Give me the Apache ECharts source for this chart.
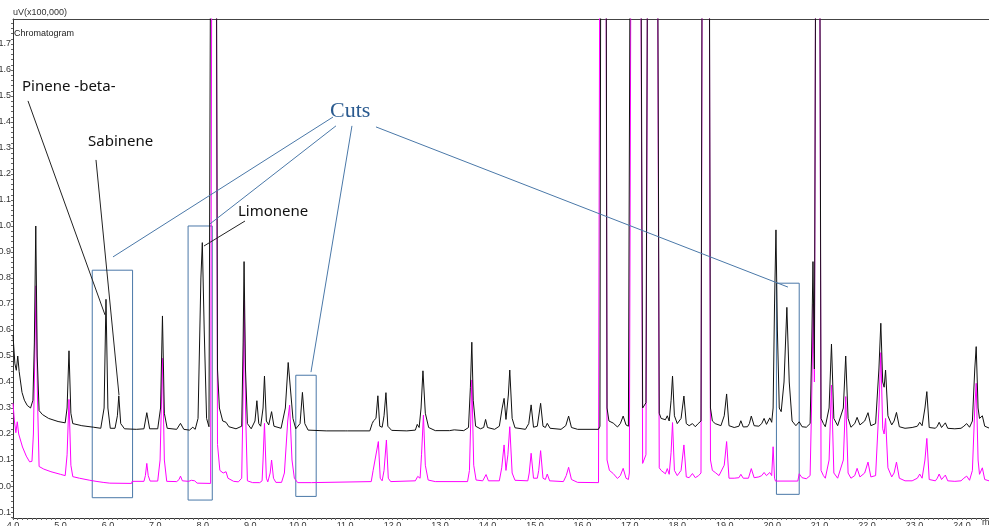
<!DOCTYPE html>
<html>
<head>
<meta charset="utf-8">
<script src="https://cdn.jsdelivr.net/npm/echarts@6/dist/echarts.min.js"></script>
<style>html,body{margin:0;padding:0;background:#fff;}#c{width:989px;height:526px;}</style>
</head>
<body>
<div id="c"></div>
<script>
// ---- data ----
const xTicks = [4.0,5.0,6.0,7.0,8.0,9.0,10.0,11.0,12.0,13.0,14.0,15.0,16.0,17.0,18.0,19.0,20.0,21.0,22.0,23.0,24.0];
const yTicks = [-0.1,0.0,0.1,0.2,0.3,0.4,0.5,0.6,0.7,0.8,0.9,1.0,1.1,1.2,1.3,1.4,1.5,1.6,1.7];

// black trace (upper chromatogram), [time min, uV x100,000]
const blackTrace = [
[4.00,0.58],[4.04,0.47],[4.07,0.445],[4.10,0.50],[4.13,0.44],[4.19,0.36],[4.24,0.33],[4.30,0.31],[4.37,0.30],[4.42,0.33],[4.45,0.55],[4.48,1.00],[4.51,0.50],[4.55,0.29],[4.62,0.275],[4.75,0.26],[4.95,0.248],[5.10,0.243],[5.14,0.30],[5.18,0.52],[5.22,0.28],[5.26,0.24],[5.45,0.232],[5.70,0.226],[5.85,0.222],[5.92,0.30],[5.96,0.718],[6.00,0.30],[6.05,0.222],[6.15,0.222],[6.20,0.27],[6.23,0.347],[6.27,0.24],[6.35,0.22],[6.60,0.218],[6.76,0.22],[6.82,0.282],[6.88,0.22],[7.05,0.22],[7.11,0.30],[7.15,0.654],[7.19,0.28],[7.25,0.222],[7.45,0.218],[7.53,0.241],[7.60,0.218],[7.72,0.215],[7.79,0.226],[7.84,0.218],[7.90,0.26],[7.96,0.80],[7.99,0.936],[8.03,0.60],[8.08,0.26],[8.13,0.228],[8.165,0.23],[8.235,6.0],[8.31,0.45],[8.35,0.30],[8.42,0.25],[8.49,0.245],[8.55,0.228],[8.70,0.22],[8.82,0.23],[8.85,0.55],[8.87,0.863],[8.90,0.45],[8.94,0.24],[9.02,0.22],[9.10,0.25],[9.14,0.328],[9.18,0.24],[9.22,0.23],[9.27,0.30],[9.30,0.423],[9.34,0.25],[9.39,0.235],[9.45,0.286],[9.50,0.23],[9.65,0.222],[9.74,0.30],[9.80,0.475],[9.84,0.47],[9.90,0.26],[9.96,0.22],[10.05,0.24],[10.10,0.36],[10.15,0.24],[10.22,0.215],[10.60,0.212],[11.00,0.212],[11.02,0.216],[11.05,0.212],[11.52,0.212],[11.57,0.24],[11.60,0.251],[11.65,0.26],[11.69,0.347],[11.73,0.23],[11.78,0.226],[11.82,0.27],[11.86,0.359],[11.90,0.23],[11.98,0.214],[12.30,0.212],[12.48,0.215],[12.52,0.237],[12.56,0.225],[12.60,0.30],[12.64,0.443],[12.69,0.28],[12.76,0.225],[12.90,0.213],[13.20,0.213],[13.30,0.216],[13.50,0.213],[13.60,0.225],[13.64,0.38],[13.67,0.553],[13.70,0.33],[13.75,0.23],[13.85,0.22],[13.92,0.225],[13.96,0.256],[14.00,0.225],[14.15,0.218],[14.25,0.23],[14.31,0.30],[14.35,0.337],[14.39,0.256],[14.44,0.35],[14.47,0.446],[14.52,0.26],[14.58,0.224],[14.80,0.218],[14.87,0.24],[14.92,0.312],[14.97,0.226],[15.05,0.23],[15.12,0.318],[15.17,0.23],[15.22,0.225],[15.26,0.241],[15.32,0.222],[15.55,0.218],[15.65,0.232],[15.71,0.269],[15.77,0.225],[15.90,0.218],[16.34,0.218],[16.37,0.23],[16.44,8.0],[16.52,0.30],[16.56,0.25],[16.65,0.242],[16.74,0.227],[16.80,0.24],[16.86,0.269],[16.92,0.235],[16.97,0.23],[16.99,0.23],[17.12,8.0],[17.27,0.30],[17.28,0.30],[17.34,0.32],[17.48,8.0],[17.62,0.28],[17.66,0.26],[17.75,0.255],[17.79,0.27],[17.83,0.25],[17.87,0.33],[17.90,0.423],[17.94,0.27],[18.00,0.24],[18.08,0.26],[18.14,0.346],[18.19,0.24],[18.25,0.232],[18.32,0.24],[18.38,0.228],[18.44,0.24],[18.50,0.25],[18.60,8.0],[18.70,0.30],[18.74,0.25],[18.80,0.24],[18.92,0.232],[18.99,0.27],[19.04,0.354],[19.09,0.232],[19.20,0.225],[19.30,0.23],[19.34,0.251],[19.39,0.227],[19.48,0.228],[19.52,0.24],[19.56,0.269],[19.62,0.232],[19.72,0.23],[19.78,0.24],[19.83,0.26],[19.88,0.237],[19.91,0.24],[19.95,0.262],[19.99,0.245],[20.02,0.30],[20.05,0.70],[20.08,0.985],[20.11,0.60],[20.15,0.30],[20.19,0.286],[20.25,0.40],[20.31,0.687],[20.36,0.40],[20.42,0.25],[20.50,0.232],[20.57,0.247],[20.63,0.228],[20.72,0.226],[20.80,0.24],[20.83,0.50],[20.86,0.863],[20.89,0.45],[20.965,5.0],[21.03,0.26],[21.08,0.24],[21.12,0.228],[21.20,0.30],[21.25,0.546],[21.30,0.26],[21.38,0.232],[21.50,0.30],[21.55,0.50],[21.60,0.26],[21.66,0.226],[21.74,0.24],[21.79,0.264],[21.85,0.235],[21.95,0.25],[22.02,0.282],[22.08,0.232],[22.18,0.24],[22.25,0.45],[22.29,0.626],[22.33,0.40],[22.36,0.38],[22.39,0.446],[22.44,0.27],[22.52,0.235],[22.57,0.25],[22.62,0.283],[22.68,0.228],[22.80,0.222],[22.95,0.225],[23.06,0.23],[23.11,0.245],[23.16,0.232],[23.22,0.30],[23.26,0.363],[23.31,0.225],[23.44,0.222],[23.48,0.23],[23.52,0.245],[23.57,0.225],[23.61,0.228],[23.65,0.243],[23.70,0.222],[23.85,0.22],[23.98,0.222],[24.04,0.23],[24.10,0.24],[24.16,0.226],[24.22,0.25],[24.27,0.45],[24.30,0.536],[24.34,0.30],[24.37,0.26],[24.43,0.27],[24.48,0.23],[24.57,0.223]
];

// magenta trace (lower chromatogram, with cut regions flattened)
const magentaTrace = [
[4.00,0.318],[4.03,0.25],[4.06,0.205],[4.09,0.247],[4.12,0.20],[4.20,0.15],[4.28,0.115],[4.35,0.093],[4.40,0.095],[4.43,0.20],[4.455,0.45],[4.485,0.77],[4.515,0.35],[4.55,0.075],[4.65,0.065],[4.80,0.055],[5.00,0.045],[5.10,0.04],[5.14,0.12],[5.18,0.333],[5.22,0.08],[5.26,0.036],[5.40,0.03],[5.62,0.022],[5.75,0.018],[5.90,0.014],[6.04,0.011],[6.50,0.010],[6.51,0.018],[6.76,0.018],[6.79,0.04],[6.82,0.087],[6.85,0.04],[6.89,0.019],[7.05,0.019],[7.10,0.10],[7.15,0.491],[7.19,0.10],[7.24,0.018],[7.45,0.017],[7.50,0.025],[7.53,0.038],[7.57,0.02],[7.70,0.018],[7.76,0.022],[7.79,0.026],[7.83,0.02],[7.88,0.011],[8.165,0.010],[8.235,6.0],[8.31,0.16],[8.36,0.06],[8.43,0.05],[8.49,0.055],[8.53,0.03],[8.65,0.018],[8.75,0.016],[8.82,0.03],[8.85,0.35],[8.875,0.715],[8.90,0.30],[8.94,0.02],[9.05,0.013],[9.20,0.013],[9.25,0.02],[9.27,0.10],[9.30,0.241],[9.34,0.03],[9.37,0.016],[9.42,0.05],[9.45,0.10],[9.49,0.03],[9.54,0.014],[9.66,0.014],[9.72,0.05],[9.79,0.25],[9.83,0.311],[9.88,0.10],[9.93,0.03],[9.96,0.023],[10.00,0.013],[10.29,0.013],[10.31,0.017],[11.55,0.017],[11.59,0.06],[11.62,0.06],[11.70,0.171],[11.74,0.03],[11.78,0.02],[11.82,0.06],[11.87,0.177],[11.91,0.03],[11.96,0.017],[12.48,0.02],[12.53,0.037],[12.58,0.03],[12.61,0.12],[12.65,0.273],[12.69,0.08],[12.75,0.023],[12.90,0.017],[13.58,0.017],[13.62,0.06],[13.67,0.408],[13.71,0.08],[13.76,0.023],[13.90,0.02],[13.97,0.044],[14.02,0.02],[14.25,0.02],[14.30,0.07],[14.35,0.158],[14.39,0.06],[14.43,0.12],[14.47,0.228],[14.52,0.05],[14.58,0.022],[14.85,0.02],[14.88,0.05],[14.92,0.126],[14.97,0.03],[15.05,0.03],[15.08,0.06],[15.12,0.136],[15.17,0.03],[15.22,0.025],[15.26,0.046],[15.31,0.02],[15.60,0.017],[15.66,0.04],[15.71,0.072],[15.77,0.025],[15.90,0.014],[16.34,0.013],[16.37,0.02],[16.44,8.0],[16.52,0.10],[16.57,0.06],[16.65,0.048],[16.74,0.029],[16.80,0.04],[16.86,0.068],[16.92,0.03],[16.97,0.025],[16.99,0.05],[17.12,8.0],[17.27,0.087],[17.29,0.087],[17.34,0.12],[17.48,8.0],[17.62,0.07],[17.66,0.06],[17.75,0.047],[17.79,0.067],[17.83,0.045],[17.87,0.13],[17.90,0.244],[17.94,0.06],[18.00,0.04],[18.08,0.06],[18.14,0.158],[18.19,0.035],[18.25,0.032],[18.32,0.048],[18.38,0.032],[18.45,0.04],[18.50,0.05],[18.60,8.0],[18.70,0.10],[18.74,0.06],[18.80,0.052],[18.88,0.04],[18.99,0.08],[19.04,0.171],[19.09,0.03],[19.20,0.03],[19.30,0.032],[19.34,0.045],[19.39,0.03],[19.50,0.03],[19.56,0.067],[19.62,0.032],[19.72,0.035],[19.78,0.04],[19.83,0.052],[19.88,0.04],[19.91,0.04],[19.95,0.052],[19.99,0.04],[20.02,0.151],[20.05,0.03],[20.07,0.019],[20.54,0.019],[20.57,0.047],[20.63,0.032],[20.72,0.028],[20.80,0.04],[20.83,0.30],[20.865,0.70],[20.89,0.40],[20.965,5.0],[21.03,0.06],[21.08,0.04],[21.12,0.03],[21.20,0.10],[21.25,0.388],[21.30,0.05],[21.38,0.03],[21.50,0.10],[21.55,0.344],[21.60,0.05],[21.66,0.03],[21.74,0.04],[21.79,0.068],[21.85,0.035],[21.95,0.05],[22.02,0.092],[22.08,0.035],[22.18,0.04],[22.25,0.30],[22.29,0.513],[22.33,0.22],[22.36,0.20],[22.39,0.26],[22.44,0.07],[22.52,0.035],[22.57,0.05],[22.62,0.092],[22.68,0.03],[22.80,0.02],[22.95,0.02],[23.06,0.03],[23.11,0.046],[23.16,0.03],[23.22,0.10],[23.26,0.183],[23.31,0.025],[23.44,0.02],[23.48,0.03],[23.52,0.046],[23.57,0.025],[23.61,0.03],[23.65,0.042],[23.70,0.02],[23.85,0.018],[23.98,0.02],[24.04,0.03],[24.10,0.038],[24.16,0.022],[24.22,0.06],[24.27,0.30],[24.30,0.395],[24.34,0.10],[24.37,0.045],[24.43,0.07],[24.48,0.025],[24.57,0.02]
];

// annotation content (data coordinates)
const cutBoxes = [[[5.67,-0.045],[6.52,0.830]],[[7.69,-0.054],[8.20,1.000]],[[9.96,-0.040],[10.39,0.426]],[[20.09,-0.032],[20.57,0.780]]];
const peakNames = ['Pinene -beta-','Sabinene','Limonene'];
const peakNameAnchors = [[4.19,1.535],[5.581,1.323],[8.742,1.054]];
const peakLeaders = [[[4.316,1.481],[5.939,0.658]],[[5.749,1.254],[6.234,0.350]],[[8.889,1.019],[8.025,0.923]]];
const cutsTitle = 'Cuts';
const cutsAnchor = [10.681,1.442];
const cutLeaders = [[[10.744,1.419],[6.107,0.881]],[[10.807,1.385],[8.152,1.008]],[[11.144,1.385],[10.280,0.438]],[[11.650,1.381],[20.333,0.765]]];

// ---- chart ----
const xMinor = [];
for (let i = 0; i <= 205; i++) xMinor.push(+(4 + i * 0.1).toFixed(2));
const yMinor = [];
for (let i = -6; i <= 89; i++) yMinor.push(+(i * 0.02).toFixed(2));

const FONT = 'Liberation Sans';
const BLUE = '#4a78a8';
const chart = echarts.init(document.getElementById('c'), null, {renderer: 'canvas'});

const leaderData = peakLeaders.map(l => [{coord: l[0], lineStyle: {color: '#222', width: 1, type: 'solid'}}, {coord: l[1]}])
  .concat(cutLeaders.map(l => [{coord: l[0], lineStyle: {color: BLUE, width: 1, type: 'solid'}}, {coord: l[1]}]));

chart.setOption({
  animation: false,
  grid: {left: 13, right: 0, top: 19, bottom: 8, containLabel: false, outerBoundsMode: 'none'},
  xAxis: [{
    type: 'value', min: 4, max: 24.57,
    axisLine: {show: true, onZero: false, lineStyle: {color: '#333', width: 1}},
    axisTick: {show: true, customValues: xMinor, length: 2, lineStyle: {color: '#666'}},
    axisLabel: {customValues: xTicks, formatter: v => v.toFixed(1), fontSize: 9, color: '#333', margin: 3, fontFamily: FONT},
    splitLine: {show: false}
  }, {
    type: 'value', position: 'top', min: 4, max: 24.57,
    axisLine: {show: true, onZero: false, lineStyle: {color: '#444', width: 1}},
    axisTick: {show: false}, axisLabel: {show: false}, splitLine: {show: false}
  }],
  yAxis: {
    type: 'value', min: -0.123, max: 1.796,
    name: 'uV(x100,000)', nameLocation: 'end', nameGap: 2,
    nameTextStyle: {align: 'left', fontSize: 9, color: '#333', fontFamily: FONT},
    axisLine: {show: true, onZero: false, lineStyle: {color: '#333', width: 1}},
    axisTick: {show: true, customValues: yMinor, length: 2, lineStyle: {color: '#666'}},
    axisLabel: {customValues: yTicks, formatter: v => v.toFixed(1), fontSize: 9, color: '#333', margin: 2, fontFamily: FONT},
    splitLine: {show: false}
  },
  series: [{
    type: 'line', name: 'lower', data: magentaTrace, showSymbol: false, symbol: 'none', clip: true,
    lineStyle: {color: '#ff00ff', width: 1}, silent: true, z: 2
  }, {
    type: 'line', name: 'upper', data: blackTrace, showSymbol: false, symbol: 'none', clip: true,
    lineStyle: {color: '#111', width: 1}, silent: true, z: 3,
    markLine: {silent: true, symbol: ['none', 'none'], label: {show: false}, data: leaderData, animation: false},
    markArea: {silent: true, itemStyle: {color: 'rgba(0,0,0,0)', borderColor: BLUE, borderWidth: 1}, label: {show: false},
      data: cutBoxes.map(b => [{xAxis: b[0][0], yAxis: b[0][1]}, {xAxis: b[1][0], yAxis: b[1][1]}])}
  }]
});

const gfx = [];
gfx.push({type: 'text', left: 14, top: 29, style: {text: 'Chromatogram', fontSize: 9, fill: '#222', fontFamily: FONT}});
gfx.push({type: 'text', left: 982, top: 518, style: {text: 'min', fontSize: 9, fill: '#333', fontFamily: FONT}});
peakNames.forEach((t, i) => {
  const p = chart.convertToPixel({gridIndex: 0}, peakNameAnchors[i]);
  gfx.push({type: 'text', x: p[0], y: p[1], style: {text: t, fontSize: 15, fill: '#111', fontFamily: 'Noto Sans', align: 'left', verticalAlign: 'middle'}});
});
const cp = chart.convertToPixel({gridIndex: 0}, cutsAnchor);
gfx.push({type: 'text', x: cp[0], y: cp[1], style: {text: cutsTitle, fontSize: 22, fill: '#2a5a8f', fontFamily: 'Liberation Serif', align: 'left', verticalAlign: 'middle'}});
chart.setOption({graphic: gfx});
</script>
</body>
</html>
